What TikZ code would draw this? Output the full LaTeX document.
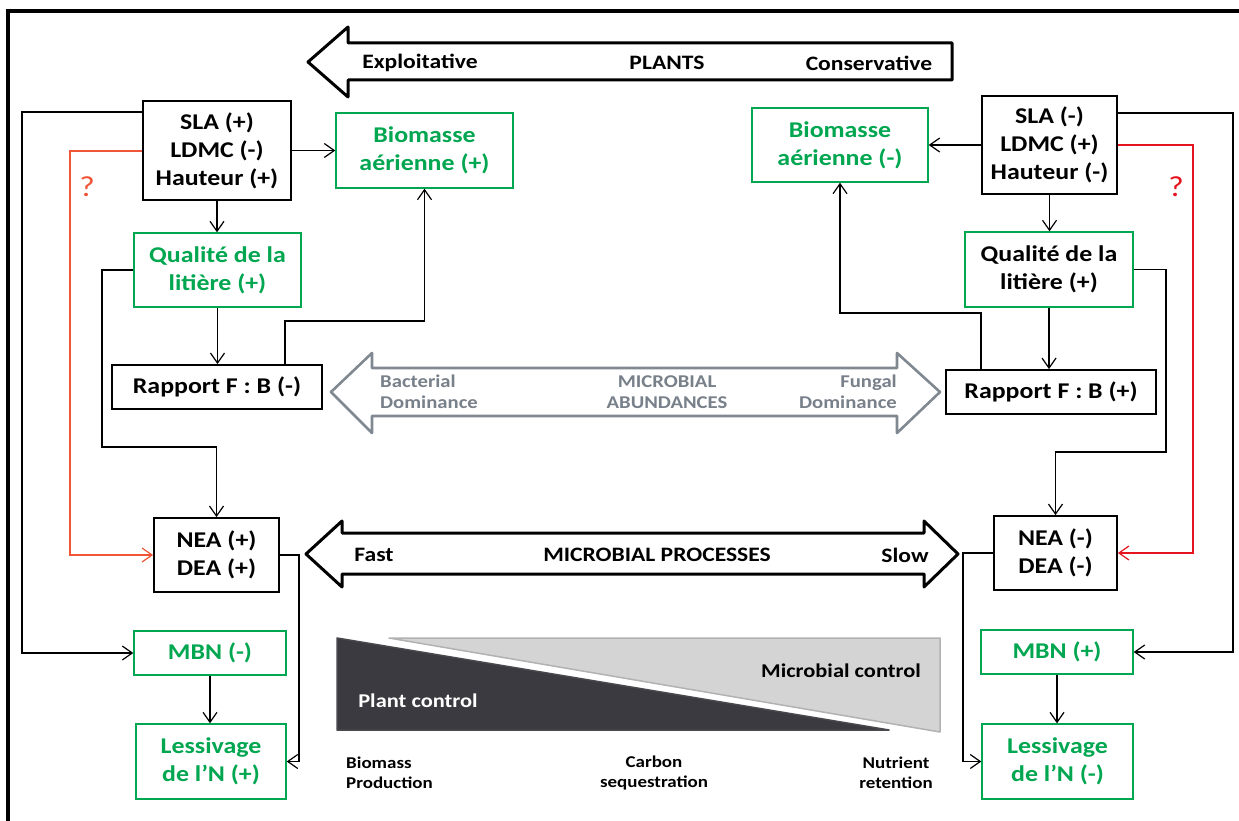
\documentclass[tikz,border=0pt]{standalone}
\usepackage{fontspec}
\setmainfont{Carlito}[FakeStretch=1.15]
\usetikzlibrary{arrows.meta}
\definecolor{grn}{RGB}{0,166,80}
\definecolor{redL}{RGB}{240,85,55}
\definecolor{redR}{RGB}{230,20,30}
\definecolor{garr}{RGB}{128,136,145}
\definecolor{gtxt}{RGB}{120,128,138}
\definecolor{dtri}{RGB}{58,58,64}
\definecolor{ltri}{RGB}{212,212,212}
\newcommand\bxfont{\bfseries\fontsize{22.5}{28}\selectfont}
\newcommand\arfont{\bfseries\fontsize{20.5}{24}\selectfont}
\begin{document}
\begin{tikzpicture}[x=1pt,y=-1pt,
  kbox/.style n args={2}{draw=black, line width=1.8pt, minimum width=#1pt, minimum height=#2pt, inner sep=0pt, align=center, font=\bxfont, text=black},
  gbox/.style n args={2}{kbox={#1}{#2}, draw=grn, line width=1.4pt, text=grn},
  arr/.style={-{Straight Barb[length=10pt,width=14pt,line width=1.2pt]}, line width=1.2pt},
  bigarr/.style={draw=black, line width=3pt, line join=round, fill=white},
  grayarr/.style={draw=garr, line width=2.6pt, line join=round, fill=white},
  lbl/.style={font=\arfont, inner sep=0pt},
  glbl/.style={font=\bfseries\fontsize{18}{21}\selectfont, text=gtxt, inner sep=0pt},
  slbl/.style={font=\bfseries\fontsize{16.5}{20}\selectfont, inner sep=0pt},
  qmark/.style={font=\fontsize{29}{32}\selectfont, inner sep=0pt}
]
\useasboundingbox (0,0) rectangle (1239,821);
\fill[white] (0,0) rectangle (1239,821);
% frame
\draw[line width=3.5pt] (8,830) -- (8,11) -- (1250,11);

% top arrow
\draw[bigarr] (308,62) -- (348,27) -- (348,43) -- (952,43) -- (952,80) -- (348,80) -- (348,97) -- cycle;
\node[lbl] (t1) at (420,63) {Exploitative};
\node[lbl] (t2) at (667,63) {PLANTS};
\node[lbl] (t3) at (869,63) {Conservative};

% microbial abundances arrow
\draw[grayarr] (331,392) -- (372,353) -- (372,368) -- (897,368) -- (897,353) -- (940,392) -- (897,433) -- (897,416) -- (372,416) -- (372,433) -- cycle;
\node[glbl, anchor=west, align=left] (g1) at (380,392) {Bacterial\\Dominance};
\node[glbl, align=center] (g2) at (667,392) {MICROBIAL\\ABUNDANCES};
\node[glbl, anchor=east, align=right] (g3) at (897,392) {Fungal\\Dominance};

% microbial processes arrow
\draw[bigarr] (306,554) -- (342,521) -- (342,533) -- (924,533) -- (924,521) -- (958,554) -- (924,587) -- (924,574) -- (342,574) -- (342,587) -- cycle;
\node[lbl] (p1) at (374,555) {Fast};
\node[lbl] (p2) at (657,555) {MICROBIAL PROCESSES};
\node[lbl] (p3) at (905,555) {Slow};

% triangles
\draw[ltri!60!gray, line width=1.5pt, fill=ltri, line join=round] (389,638) -- (940,638) -- (940,732) -- cycle;
\draw[dtri!80!gray, line width=1.5pt, fill=dtri, line join=round] (337,638) -- (889,730) -- (337,730) -- cycle;
\node[font=\bfseries\fontsize{19.5}{22}\selectfont, text=white, inner sep=0pt] (pc) at (418,701) {Plant control};
\node[font=\bfseries\fontsize{19.5}{22}\selectfont, inner sep=0pt] (mc) at (841,671) {Microbial control};
\node[slbl, anchor=west, align=left] (b1) at (346,773) {Biomass\\Production};
\node[slbl, align=center] (b2) at (654,773) {Carbon\\sequestration};
\node[slbl, align=center] (b3) at (896,773) {Nutrient\\retention};

% left boxes
\node[kbox={148}{99}] (sla1) at (217,150.5) {SLA (+)\\LDMC (-)\\Hauteur (+)};
\node[gbox={177}{75}] (bio1) at (424.5,150.5) {Biomasse\\aérienne (+)};
\node[gbox={167}{74}] (qual1) at (217.5,270) {Qualité de la\\litière (+)};
\node[kbox={210}{44}] (rap1) at (217,387) {Rapport F : B (-)};
\node[kbox={125}{74}] (nea1) at (216.5,555) {NEA (+)\\DEA (+)};
\node[gbox={152}{44}] (mbn1) at (210,653) {MBN (-)};
\node[gbox={150}{75}] (les1) at (211,761.5) {Lessivage\\de l’N (+)};

% right boxes
\node[gbox={176}{74}] (bio2) at (840,145) {Biomasse\\aérienne (-)};
\node[kbox={135}{98}] (sla2) at (1049.5,145) {SLA (-)\\LDMC (+)\\Hauteur (-)};
\node[gbox={168}{75}, text=black] (qual2) at (1049,269.5) {Qualité de la\\litière (+)};
\node[kbox={210}{44}] (rap2) at (1051,392) {Rapport F : B (+)};
\node[kbox={123}{74}] (nea2) at (1055.5,553) {NEA (-)\\DEA (-)};
\node[gbox={152}{44}] (mbn2) at (1057,652) {MBN (+)};
\node[gbox={151}{75}] (les2) at (1057.5,761.5) {Lessivage\\de l’N (-)};

\node[qmark, text=redL] (q1) at (87,187) {?};
\node[qmark, text=redR] (q2) at (1176,187) {?};

% left connectors
\draw[arr] (sla1.east) -- (bio1.west);
\draw[arr] (sla1.west |- 0,112) -- (22,112) |- (mbn1.west);
\draw[arr, color=redL] (sla1.west |- 0,151) -- (70,151) |- (nea1.west);
\draw[arr] (sla1.south) -- (sla1.south |- qual1.north);
\draw[arr] (qual1.west) -- (102,270) -- (102,447) -| (nea1.north);
\draw[arr] (qual1.south) -- (qual1.south |- rap1.north);
\draw[arr] (285,0 |- rap1.north) -- (285,321) -| (bio1.south);
\draw[arr] (nea1.east) -- (299,555) |- (les1.east);
\draw[arr] (mbn1.south) -- (mbn1.south |- les1.north);

% right connectors
\draw[arr] (sla2.west) -- (bio2.east);
\draw[arr] (sla2.east |- 0,113) -- (1233,113) |- (mbn2.east);
\draw[arr, color=redR] (sla2.east) -- (1193,145) |- (nea2.east);
\draw[arr] (sla2.south) -- (sla2.south |- qual2.north);
\draw[arr] (qual2.east) -- (1166,269.5) -- (1166,452) -| (nea2.north);
\draw[arr] (qual2.south) -- (qual2.south |- rap2.north);
\draw[arr] (981,0 |- rap2.north) -- (981,313) -| (bio2.south);
\draw[arr] (nea2.west) -- (963,553) |- (les2.west);
\draw[arr] (mbn2.south) -- (mbn2.south |- les2.north);
\end{tikzpicture}
\end{document}
